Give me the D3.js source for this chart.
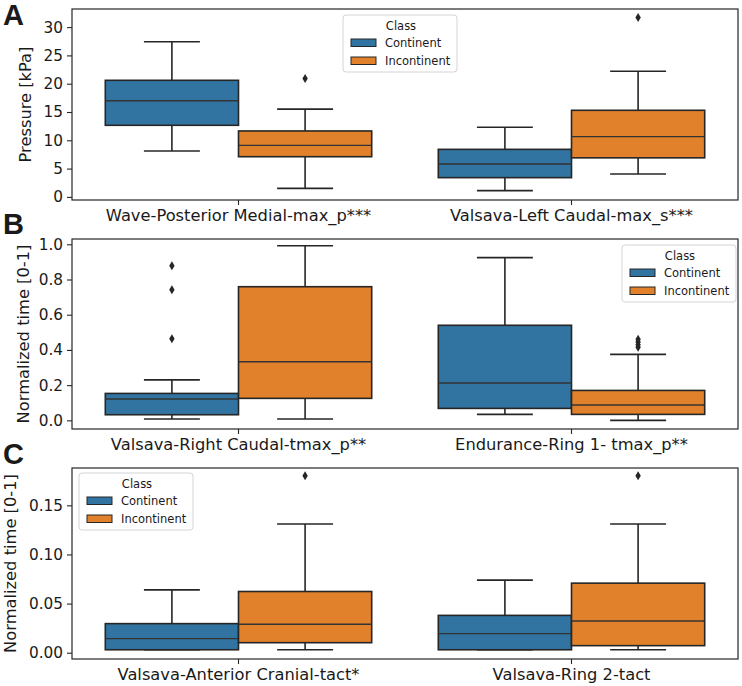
<!DOCTYPE html>
<html>
<head>
<meta charset="utf-8">
<script src="https://cdn.jsdelivr.net/npm/d3@7"></script>
<style>
  html, body { margin: 0; padding: 0; background: #fff; }
  svg { display: block; }
  text { font-family: "DejaVu Sans", sans-serif; fill: #1a1a1a; }
</style>
</head>
<body>
<svg id="chart" width="742" height="686"></svg>
<script>
// ---------- DATA (five-number summaries: [lowWhisker, Q1, median, Q3, highWhisker]) ----------
const classes = ["Continent", "Incontinent"];
const classColors = ["#3274a1", "#e1812c"];

const categoriesA = ["Wave-Posterior Medial-max_p***", "Valsava-Left Caudal-max_s***"];
const continentA   = [[8.1, 12.65, 17.0, 20.6, 27.4], [1.1, 3.4, 5.8, 8.4, 12.3]];
const incontinentA = [[1.5, 7.1, 9.1, 11.65, 15.5], [4.05, 6.9, 10.65, 15.3, 22.2]];
const outContA = [[], []];
const outIncA  = [[20.9], [31.7]];
const ticksA = [0, 5, 10, 15, 20, 25, 30];

const categoriesB = ["Valsava-Right Caudal-tmax_p**", "Endurance-Ring 1- tmax_p**"];
const continentB   = [[0.008, 0.032, 0.121, 0.153, 0.23], [0.034, 0.068, 0.212, 0.54, 0.924]];
const incontinentB = [[0.008, 0.125, 0.333, 0.759, 0.992], [0.0, 0.034, 0.087, 0.17, 0.375]];
const outContB = [[0.464, 0.742, 0.878], []];
const outIncB  = [[], [0.415, 0.43, 0.445, 0.46]];
const ticksB = [0.0, 0.2, 0.4, 0.6, 0.8, 1.0];

const categoriesC = ["Valsava-Anterior Cranial-tact*", "Valsava-Ring 2-tact"];
const continentC   = [[0.003, 0.003, 0.0143, 0.0296, 0.064], [0.003, 0.003, 0.0194, 0.038, 0.0739]];
const incontinentC = [[0.003, 0.0102, 0.029, 0.0623, 0.131], [0.003, 0.0072, 0.0323, 0.0708, 0.131]];
const outContC = [[], []];
const outIncC  = [[0.180], [0.180]];
const ticksC = [0.00, 0.05, 0.10, 0.15];

// ---------- LAYOUT ----------
const svg = d3.select("#chart");
const left = 72, right = 738;

const panels = [
  { letter: "A", top: 9,   bottom: 200, domain: [-0.55, 33.2],   ticks: ticksA, fmt: d3.format("d"),
    ylabel: "Pressure [kPa]", labelX: 31, cats: categoriesA, cont: continentA, inc: incontinentA,
    outC: outContA, outI: outIncA, legend: [343, 15], letterY: 25 },
  { letter: "B", top: 239, bottom: 429, domain: [-0.049, 1.03],  ticks: ticksB, fmt: d3.format(".1f"),
    ylabel: "Normalized time [0-1]", labelX: 29, cats: categoriesB, cont: continentB, inc: incontinentB,
    outC: outContB, outI: outIncB, legend: [622, 245], letterY: 234 },
  { letter: "C", top: 468, bottom: 659, domain: [-0.0064, 0.188], ticks: ticksC, fmt: d3.format(".2f"),
    ylabel: "Normalized time [0-1]", labelX: 16, cats: categoriesC, cont: continentC, inc: incontinentC,
    outC: outContC, outI: outIncC, legend: [79, 473], letterY: 464 }
];

const lineCol = "#262626";

panels.forEach(p => {
  const g = svg.append("g");
  const x = d3.scaleBand().domain(p.cats).range([left, right]).padding(0);
  const hue = d3.scaleBand().domain(classes).range([-x.bandwidth() * 0.4, x.bandwidth() * 0.4]).padding(0);
  const y = d3.scaleLinear().domain(p.domain).range([p.bottom, p.top]);

  // Y axis
  const yAxis = d3.axisLeft(y).tickValues(p.ticks).tickFormat(p.fmt).tickSize(5).tickPadding(4);
  const ya = g.append("g").attr("transform", `translate(${left},0)`).call(yAxis);
  ya.select(".domain").remove();
  ya.selectAll(".tick line").attr("stroke", lineCol).attr("stroke-width", 1.1);
  ya.selectAll(".tick text").style("font-size", "15.3px").style("font-family", "DejaVu Sans, sans-serif").attr("fill", "#1a1a1a");

  // X axis
  const xAxis = d3.axisBottom(x).tickSize(5).tickPadding(4);
  const xa = g.append("g").attr("transform", `translate(0,${p.bottom})`).call(xAxis);
  xa.select(".domain").remove();
  xa.selectAll(".tick line").attr("stroke", lineCol).attr("stroke-width", 1.1);
  xa.selectAll(".tick text").style("font-size", "16.3px").style("font-family", "DejaVu Sans, sans-serif")
    .attr("fill", "#1a1a1a").attr("dy", "0.71em").attr("y", 9);

  // Boxes
  const series = [p.cont, p.inc];
  const outs = [p.outC, p.outI];
  classes.forEach((cls, ci) => {
    p.cats.forEach((cat, k) => {
      const [lo, q1, med, q3, hi] = series[ci][k];
      const bx = x(cat) + x.bandwidth() / 2 + hue(cls);
      const bw = hue.bandwidth();
      const cx = bx + bw / 2;
      const capW = bw * 0.42;
      const bg = g.append("g");
      bg.append("line").attr("x1", cx).attr("x2", cx).attr("y1", y(q3)).attr("y2", y(hi))
        .attr("stroke", lineCol).attr("stroke-width", 1.6);
      bg.append("line").attr("x1", cx).attr("x2", cx).attr("y1", y(q1)).attr("y2", y(lo))
        .attr("stroke", lineCol).attr("stroke-width", 1.6);
      bg.append("line").attr("x1", cx - capW / 2).attr("x2", cx + capW / 2).attr("y1", y(hi)).attr("y2", y(hi))
        .attr("stroke", lineCol).attr("stroke-width", 1.6);
      bg.append("line").attr("x1", cx - capW / 2).attr("x2", cx + capW / 2).attr("y1", y(lo)).attr("y2", y(lo))
        .attr("stroke", lineCol).attr("stroke-width", 1.6);
      bg.append("rect").attr("x", bx).attr("width", bw).attr("y", y(q3)).attr("height", y(q1) - y(q3))
        .attr("fill", classColors[ci]).attr("stroke", lineCol).attr("stroke-width", 1.6);
      bg.append("line").attr("x1", bx).attr("x2", bx + bw).attr("y1", y(med)).attr("y2", y(med))
        .attr("stroke", "#333").attr("stroke-width", 1.4);
      outs[ci][k].forEach(v => {
        const yy = y(v);
        bg.append("path").attr("d", `M${cx},${yy - 4.5}L${cx + 2.7},${yy}L${cx},${yy + 4.5}L${cx - 2.7},${yy}Z`)
          .attr("fill", "#262626");
      });
    });
  });

  // Frame
  g.append("rect").attr("x", left).attr("y", p.top).attr("width", right - left).attr("height", p.bottom - p.top)
    .attr("fill", "none").attr("stroke", lineCol).attr("stroke-width", 1.2);

  // Y label
  g.append("text").attr("transform", `translate(${p.labelX},${(p.top + p.bottom) / 2}) rotate(-90)`)
    .attr("text-anchor", "middle").style("font-size", "16.3px").text(p.ylabel);

  // Panel letter
  g.append("text").attr("x", 3).attr("y", p.letterY).style("font-family", "Liberation Sans, Arial, sans-serif")
    .style("font-weight", "bold").style("font-size", "29px").attr("fill", "#000").text(p.letter);

  // Legend
  const [lx, ly] = p.legend;
  const lg = g.append("g").attr("transform", `translate(${lx},${ly})`);
  lg.append("rect").attr("width", 114).attr("height", 57).attr("rx", 3)
    .attr("fill", "#fff").attr("fill-opacity", 0.85).attr("stroke", "#d4d4d4").attr("stroke-width", 1);
  lg.append("text").attr("x", 58).attr("y", 15).attr("text-anchor", "middle").style("font-size", "11.5px").text("Class");
  classes.forEach((cls, ci) => {
    lg.append("rect").attr("x", 8).attr("y", 24 + ci * 18).attr("width", 25).attr("height", 7.5)
      .attr("fill", classColors[ci]).attr("stroke", lineCol).attr("stroke-width", 1);
    lg.append("text").attr("x", 42).attr("y", 32 + ci * 18).style("font-size", "11.5px").text(cls);
  });
});
</script>
</body>
</html>
